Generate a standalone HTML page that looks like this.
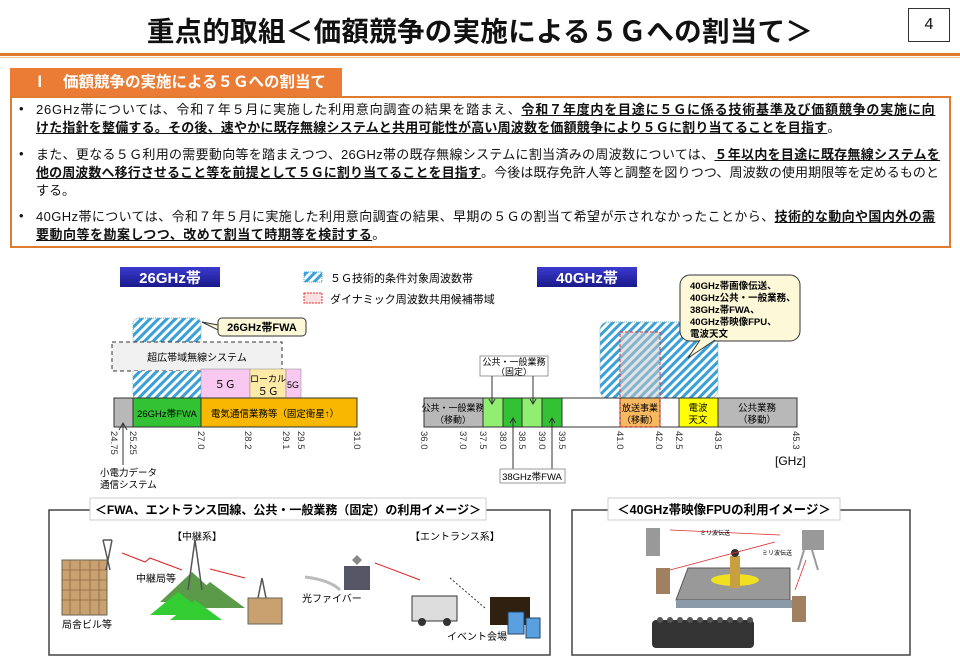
<!DOCTYPE html>
<html><head><meta charset="utf-8"><style>
*{margin:0;padding:0;box-sizing:border-box}
body{width:960px;height:665px;background:#fff;position:relative;overflow:hidden;font-family:"Liberation Sans","Noto Sans CJK JP",sans-serif;color:#111}
.a{position:absolute}
.l{position:absolute;left:36px;font-size:13px;line-height:18px;white-space:nowrap}
.l b{text-decoration:underline}
.bl{position:absolute;left:19px;font-size:13px}
</style></head><body>
<div class="a" style="left:0;top:9px;width:960px;text-align:center;font-size:27.5px;font-weight:bold;letter-spacing:0.3px">重点的取組＜価額競争の実施による５Ｇへの割当て＞</div>
<div class="a" style="left:908px;top:8px;width:42px;height:34px;border:1.5px solid #333;font-size:16px;text-align:center;line-height:31px">4</div>
<div class="a" style="left:0;top:53px;width:960px;height:3px;background:#e07a2c"></div>
<div class="a" style="left:0;top:57px;width:960px;height:1px;background:#f2c7a5"></div>
<div class="a" style="left:10px;top:68px;width:332px;height:29px;background:#ea7c35;color:#fff;font-weight:bold;font-size:15.5px;line-height:29px;padding-left:22px">Ⅰ　価額競争の実施による５Ｇへの割当て</div>
<div class="a" style="left:10px;top:96px;width:941px;height:152px;border:2px solid #e07a2c"></div>
<div class="bl" style="top:101px">•</div>
<div class="l" style="top:101px;letter-spacing:0.8px">26GHz帯については、令和７年５月に実施した利用意向調査の結果を踏まえ、<b>令和７年度内を目途に５Ｇに係る技術基準及び価額競争の実施に向</b></div>
<div class="l" style="top:119px;letter-spacing:0.2px"><b>けた指針を整備する。その後、速やかに既存無線システムと共用可能性が高い周波数を価額競争により５Ｇに割り当てることを目指す</b>。</div>
<div class="bl" style="top:146px">•</div>
<div class="l" style="top:146px;letter-spacing:0.3px">また、更なる５Ｇ利用の需要動向等を踏まえつつ、26GHz帯の既存無線システムに割当済みの周波数については、<b>５年以内を目途に既存無線システムを</b></div>
<div class="l" style="top:164px;letter-spacing:0.1px"><b>他の周波数へ移行させること等を前提として５Ｇに割り当てることを目指す</b>。今後は既存免許人等と調整を図りつつ、周波数の使用期限等を定めるものと</div>
<div class="l" style="top:182px">する。</div>
<div class="bl" style="top:208px">•</div>
<div class="l" style="top:208px;letter-spacing:0.4px">40GHz帯については、令和７年５月に実施した利用意向調査の結果、早期の５Ｇの割当て希望が示されなかったことから、<b>技術的な動向や国内外の需</b></div>
<div class="l" style="top:226px;letter-spacing:0.5px"><b>要動向等を勘案しつつ、改めて割当て時期等を検討する</b>。</div>

<svg class="a" style="left:0;top:0" width="960" height="665" font-family="Liberation Sans,Noto Sans CJK JP,sans-serif">
<defs>
<pattern id="h" width="6" height="6" patternUnits="userSpaceOnUse" patternTransform="rotate(45)"><rect width="6" height="6" fill="#fff"/><rect width="3" height="6" fill="#3aa0d8"/></pattern>
<linearGradient id="nv" x1="0" y1="0" x2="0" y2="1"><stop offset="0" stop-color="#3a3ad0"/><stop offset="1" stop-color="#1a1a8a"/></linearGradient>
</defs>
<rect x="120" y="267" width="100" height="20" fill="url(#nv)"/>
<text x="170" y="283" font-size="15" font-weight="bold" fill="#fff" text-anchor="middle">26GHz帯</text>
<rect x="537" y="267" width="100" height="20" fill="url(#nv)"/>
<text x="587" y="283" font-size="15" font-weight="bold" fill="#fff" text-anchor="middle">40GHz帯</text>
<rect x="304" y="272" width="18" height="10" fill="url(#h)" stroke="#3aa0d8" stroke-dasharray="1,1"/>
<text x="330" y="282" font-size="11">５Ｇ技術的条件対象周波数帯</text>
<rect x="304" y="293" width="18" height="10" fill="#fde0e0" stroke="#e03030" stroke-dasharray="2,1"/>
<text x="330" y="303" font-size="11">ダイナミック周波数共用候補帯域</text>

<rect x="133" y="318" width="68" height="80" rx="6" fill="url(#h)" stroke="#7ab" stroke-dasharray="1,1"/>
<rect x="112" y="342" width="170" height="29" fill="#f0f0f0" stroke="#333" stroke-dasharray="4,3"/>
<text x="197" y="361" font-size="10" text-anchor="middle">超広帯域無線システム</text>
<rect x="133" y="371" width="68" height="27" fill="url(#h)"/>
<rect x="201" y="369" width="49" height="29" fill="#f8c8f0" stroke="#888" stroke-width=".5"/>
<text x="225" y="388" font-size="10.5" text-anchor="middle">５Ｇ</text>
<rect x="250" y="369" width="36" height="29" fill="#fdeaa8" stroke="#888" stroke-width=".5"/>
<text x="268" y="382" font-size="9" text-anchor="middle">ローカル</text>
<text x="268" y="395" font-size="10.5" text-anchor="middle">５Ｇ</text>
<rect x="286" y="369" width="15" height="29" fill="#f8c8f0" stroke="#888" stroke-width=".5"/>
<text x="293" y="388" font-size="9" text-anchor="middle">5G</text>
<rect x="218" y="318" width="88" height="18" rx="4" fill="#fdf8d8" stroke="#333"/>
<path d="M218 325 L202 322 L218 330Z" fill="#fdf8d8" stroke="#333"/>
<text x="262" y="331" font-size="11" font-weight="bold" text-anchor="middle">26GHz帯FWA</text>
<rect x="114" y="398" width="19" height="29" fill="#b8b8b8" stroke="#333"/>
<rect x="133" y="398" width="68" height="29" fill="#33c233" stroke="#333"/>
<text x="167" y="417" font-size="9.5" text-anchor="middle">26GHz帯FWA</text>
<rect x="201" y="398" width="156" height="29" fill="#f8b800" stroke="#333"/>
<text x="275" y="417" font-size="9.5" text-anchor="middle">電気通信業務等（固定衛星↑）</text>
<g font-size="9.5" fill="#333">
<text transform="translate(111,431) rotate(90)">24.75</text>
<text transform="translate(130,431) rotate(90)">25.25</text>
<text transform="translate(198,431) rotate(90)">27.0</text>
<text transform="translate(245,431) rotate(90)">28.2</text>
<text transform="translate(283,431) rotate(90)">29.1</text>
<text transform="translate(298,431) rotate(90)">29.5</text>
<text transform="translate(354,431) rotate(90)">31.0</text>
</g>
<line x1="123" y1="465" x2="123" y2="424" stroke="#333"/><path d="M119 430 L123 423 L127 430" fill="none" stroke="#333"/>
<text x="100" y="476" font-size="9.5">小電力データ</text>
<text x="100" y="488" font-size="9.5">通信システム</text>

<rect x="600" y="322" width="118" height="76" rx="8" fill="url(#h)" stroke="#7ab" stroke-dasharray="1,1"/>
<rect x="620" y="332" width="40" height="95" fill="#c8c8c8" fill-opacity=".5"/>
<rect x="424" y="398" width="373" height="29" fill="#fff" stroke="#333"/>
<rect x="424" y="398" width="59" height="29" fill="#b8b8b8" stroke="#333"/>
<text x="453" y="411" font-size="9" text-anchor="middle">公共・一般業務</text>
<text x="453" y="423" font-size="9" text-anchor="middle">（移動）</text>
<rect x="483" y="398" width="20" height="29" fill="#90ee70" stroke="#333"/>
<rect x="503" y="398" width="19" height="29" fill="#33c233" stroke="#333"/>
<rect x="522" y="398" width="20" height="29" fill="#90ee70" stroke="#333"/>
<rect x="542" y="398" width="20" height="29" fill="#33c233" stroke="#333"/>
<rect x="620" y="398" width="40" height="29" fill="#f8b860" stroke="#333"/>
<rect x="620" y="332" width="40" height="95" fill="none" stroke="#e03030" stroke-dasharray="3,2"/>
<text x="640" y="411" font-size="9" text-anchor="middle">放送事業</text>
<text x="640" y="423" font-size="9" text-anchor="middle">（移動）</text>
<rect x="679" y="398" width="39" height="29" fill="#ffff00" stroke="#333"/>
<text x="698" y="411" font-size="9.5" text-anchor="middle">電波</text>
<text x="698" y="423" font-size="9.5" text-anchor="middle">天文</text>
<rect x="718" y="398" width="79" height="29" fill="#b8b8b8" stroke="#333"/>
<text x="757" y="411" font-size="9.5" text-anchor="middle">公共業務</text>
<text x="757" y="423" font-size="9.5" text-anchor="middle">（移動）</text>
<rect x="480" y="356" width="68" height="20" fill="#fff" stroke="#999"/>
<text x="514" y="365" font-size="9" text-anchor="middle">公共・一般業務</text>
<text x="514" y="375" font-size="9" text-anchor="middle">（固定）</text>
<g stroke="#333" fill="none"><line x1="492" y1="376" x2="492" y2="404"/><path d="M489 399 L492 404 L495 399"/>
<line x1="533" y1="376" x2="533" y2="404"/><path d="M530 399 L533 404 L536 399"/>
<line x1="513" y1="469" x2="513" y2="418"/><path d="M510 423 L513 418 L516 423"/>
<line x1="552" y1="469" x2="552" y2="418"/><path d="M549 423 L552 418 L555 423"/></g>
<rect x="500" y="469" width="65" height="14" fill="#fff" stroke="#999"/>
<text x="532" y="480" font-size="9.5" text-anchor="middle">38GHz帯FWA</text>
<g font-size="9.5" fill="#333">
<text transform="translate(421,431) rotate(90)">36.0</text>
<text transform="translate(460,431) rotate(90)">37.0</text>
<text transform="translate(480,431) rotate(90)">37.5</text>
<text transform="translate(500,431) rotate(90)">38.0</text>
<text transform="translate(519,431) rotate(90)">38.5</text>
<text transform="translate(539,431) rotate(90)">39.0</text>
<text transform="translate(559,431) rotate(90)">39.5</text>
<text transform="translate(617,431) rotate(90)">41.0</text>
<text transform="translate(656,431) rotate(90)">42.0</text>
<text transform="translate(676,431) rotate(90)">42.5</text>
<text transform="translate(715,431) rotate(90)">43.5</text>
<text transform="translate(793,431) rotate(90)">45.3</text>
</g>
<text x="775" y="465" font-size="12">[GHz]</text>
<rect x="680" y="275" width="120" height="66" rx="10" fill="#fdf8d8" stroke="#333"/>
<path d="M700 340 L688 358 L715 340" fill="#fdf8d8" stroke="#333"/>
<g font-size="9.5" font-weight="bold"><text x="690" y="289">40GHz帯画像伝送、</text><text x="690" y="301">40GHz公共・一般業務、</text><text x="690" y="313">38GHz帯FWA、</text><text x="690" y="325">40GHz帯映像FPU、</text><text x="690" y="337">電波天文</text></g>

<rect x="49" y="510" width="501" height="145" fill="#fff" stroke="#444" stroke-width="1.5"/>
<rect x="90" y="498" width="396" height="22" fill="#fff" stroke="#ccc"/>
<text x="288" y="514" font-size="12" font-weight="bold" text-anchor="middle">＜FWA、エントランス回線、公共・一般業務（固定）の利用イメージ＞</text>
<rect x="62" y="560" width="45" height="55" fill="#c9a070" stroke="#665"/>
<g stroke="#8a6a40" stroke-width=".8"><line x1="62" y1="570" x2="107" y2="570"/><line x1="62" y1="580" x2="107" y2="580"/><line x1="62" y1="590" x2="107" y2="590"/><line x1="62" y1="600" x2="107" y2="600"/><line x1="70" y1="560" x2="70" y2="615"/><line x1="80" y1="560" x2="80" y2="615"/><line x1="90" y1="560" x2="90" y2="615"/><line x1="99" y1="560" x2="99" y2="615"/></g>
<path d="M103 540 L110 570 M112 540 L106 570 M103 540 L112 540" stroke="#555" stroke-width="1.5" fill="none"/>
<text x="62" y="628" font-size="10">局舎ビル等</text>
<path d="M160 602 L192 572 L225 602 Z M182 608 L210 582 L245 608Z" fill="#5a9a48"/>
<path d="M150 615 L178 592 L208 615Z M170 620 L195 600 L222 620Z" fill="#33cc33"/>
<rect x="248" y="598" width="34" height="26" fill="#c9a070" stroke="#665"/>
<path d="M195 540 L188 590 M195 540 L202 590 M262 578 L258 598 M262 578 L266 598" stroke="#555" stroke-width="1.5"/>
<text x="136" y="582" font-size="10">中継局等</text>
<text x="172" y="540" font-size="10">【中継系】</text>
<path d="M122 553 L145 562 L150 558 L182 570" stroke="#e02020" fill="none"/>
<path d="M210 569 L245 578" stroke="#e02020"/>
<path d="M305 577 Q330 580 340 590" stroke="#bbb" stroke-width="3" fill="none"/>
<text x="302" y="602" font-size="10">光ファイバー</text>
<rect x="344" y="566" width="26" height="24" fill="#556"/>
<path d="M352 560 L357 555 L362 560 L357 565Z" fill="#888"/>
<path d="M375 563 L420 580" stroke="#e02020"/>
<text x="410" y="540" font-size="10">【エントランス系】</text>
<rect x="412" y="596" width="45" height="25" fill="#ddd" stroke="#333"/>
<circle cx="422" cy="622" r="4" fill="#333"/><circle cx="447" cy="622" r="4" fill="#333"/>
<path d="M450 578 L485 608" stroke="#333" stroke-dasharray="2,2"/>
<rect x="490" y="597" width="40" height="28" fill="#302010"/>
<rect x="508" y="612" width="16" height="22" fill="#5aa0e0" stroke="#246"/>
<rect x="526" y="618" width="14" height="20" fill="#5aa0e0" stroke="#246"/>
<text x="447" y="640" font-size="10">イベント会場</text>

<rect x="572" y="510" width="338" height="145" fill="#fff" stroke="#444" stroke-width="1.5"/>
<rect x="608" y="498" width="232" height="22" fill="#fff" stroke="#ccc"/>
<text x="724" y="514" font-size="12.5" font-weight="bold" text-anchor="middle">＜40GHz帯映像FPUの利用イメージ＞</text>
<path d="M688 568 L790 568 L790 600 L676 600Z" fill="#999" stroke="#555"/>
<rect x="676" y="600" width="116" height="8" fill="#8a9aa8"/>
<ellipse cx="735" cy="580" rx="24" ry="6" fill="#f0e020"/>
<rect x="730" y="556" width="10" height="32" fill="#c8a040"/>
<circle cx="735" cy="553" r="4" fill="#333"/>
<rect x="652" y="620" width="102" height="28" rx="4" fill="#333"/>
<g fill="#555"><circle cx="660" cy="620" r="3"/><circle cx="670" cy="620" r="3"/><circle cx="680" cy="620" r="3"/><circle cx="690" cy="620" r="3"/><circle cx="700" cy="620" r="3"/><circle cx="710" cy="620" r="3"/><circle cx="720" cy="620" r="3"/><circle cx="730" cy="620" r="3"/><circle cx="740" cy="620" r="3"/><circle cx="750" cy="620" r="3"/></g>
<rect x="646" y="528" width="14" height="28" fill="#999"/>
<rect x="802" y="530" width="22" height="20" fill="#999"/>
<path d="M804 550 L798 570 M812 550 L818 570" stroke="#999" stroke-width="2"/>
<rect x="656" y="568" width="14" height="26" fill="#a08060"/>
<rect x="792" y="596" width="14" height="26" fill="#a08060"/>
<path d="M670 530 L780 535 M670 570 L775 542 M806 560 L795 590" stroke="#e03030" stroke-width=".8"/>
<text x="700" y="535" font-size="6">ミリ波伝送</text>
<text x="762" y="555" font-size="6">ミリ波伝送</text>
</svg>
</body></html>
